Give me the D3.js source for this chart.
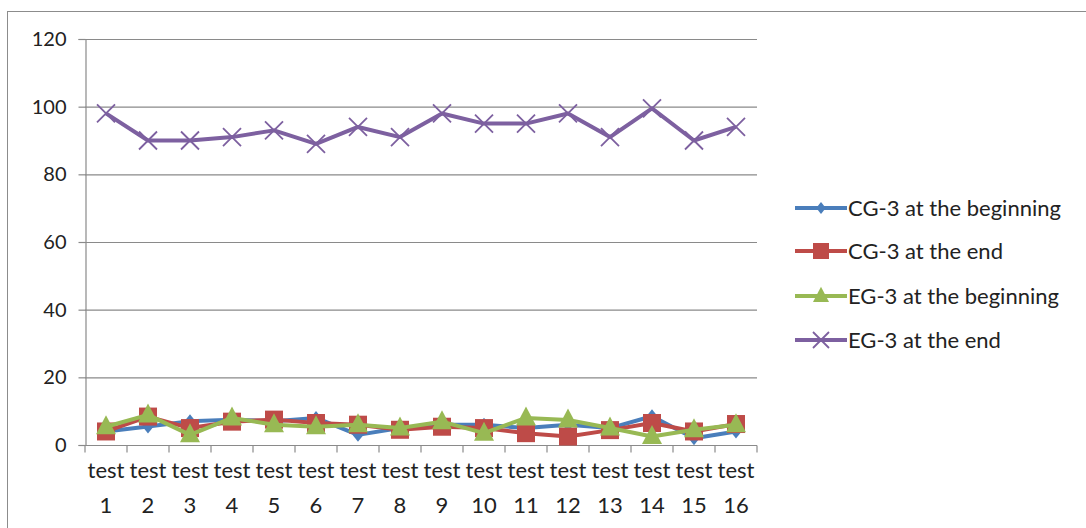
<!DOCTYPE html>
<html><head><meta charset="utf-8">
<script src="https://cdn.jsdelivr.net/npm/d3@7"></script>
<style>body{margin:0;background:#fff}svg{display:block}text{font-family:Lato,"Open Sans",sans-serif;fill:#222}</style>
</head><body>
<svg id="c" width="1086" height="528"></svg>
<script>
const categories = ["test 1","test 2","test 3","test 4","test 5","test 6","test 7","test 8","test 9","test 10","test 11","test 12","test 13","test 14","test 15","test 16"];
const cgBegin = [4, 5.5, 7, 7.5, 7, 8, 3, 5, 6, 6, 5, 6, 5, 8.5, 2, 4];
const cgEnd   = [4, 8.4, 5, 6.9, 7.5, 6.5, 6, 4.5, 5.4, 5, 3.5, 2.5, 4.4, 6.5, 4, 6.2];
const egBegin = [5.4, 8.9, 3, 8, 6, 5.4, 6, 5, 6.9, 3.5, 8, 7.4, 5, 2.5, 4.5, 6];
const egEnd   = [98, 90, 90, 91, 93, 89, 94, 91, 98, 95, 95, 98, 91, 99.5, 90, 94];
const seriesNames = ["CG-3 at the beginning","CG-3 at the end","EG-3 at the beginning","EG-3 at the end"];
const yTicks = [0,20,40,60,80,100,120];

const colors = ["#4a7ebb","#be4b48","#98b954","#7d60a0"];
const symbols = ["diamond","square","triangle","x"];
const allSeries = [cgBegin, cgEnd, egBegin, egEnd];

const svg = d3.select("#c");
svg.append("rect").attr("x",7.5).attr("y",11.5).attr("width",1100).attr("height",600)
  .attr("fill","none").attr("stroke","#8c8c8c").attr("stroke-width",1);

const L=85, R=757, T=39, B=445;
const x = d3.scaleBand().domain(categories).range([L,R]);
const y = d3.scaleLinear().domain([0,120]).range([B,T]);

svg.append("g").selectAll("line").data(yTicks.filter(d=>d>0)).join("line")
  .attr("x1",L).attr("x2",R).attr("y1",d=>y(d)+0.5).attr("y2",d=>y(d)+0.5)
  .attr("stroke","#8a8a8a").attr("stroke-width",1.2);

const ya = svg.append("g").attr("transform",`translate(${L+0.5},0)`)
  .call(d3.axisLeft(y).tickValues(yTicks).tickSize(7).tickPadding(12));
ya.select(".domain").attr("stroke","#8a8a8a").attr("stroke-width",1.2);
ya.selectAll(".tick line").attr("stroke","#8a8a8a").attr("stroke-width",1.2);
ya.selectAll("text").attr("font-size",20).style("font-family","Lato,'Open Sans',sans-serif").attr("fill","#222");

const xa = svg.append("g").attr("transform",`translate(0,${B+0.5})`);
xa.append("line").attr("x1",L).attr("x2",R).attr("stroke","#8a8a8a").attr("stroke-width",1.2);
const bounds = categories.map(c=>x(c)).concat([R]);
xa.selectAll("line.t").data(bounds).join("line").attr("class","t")
  .attr("x1",d=>d).attr("x2",d=>d).attr("y1",0).attr("y2",7)
  .attr("stroke","#8a8a8a").attr("stroke-width",1.2);
const lab = xa.selectAll("text").data(categories).join("text")
  .attr("text-anchor","middle").attr("font-size",22);
lab.append("tspan").attr("x",c=>x(c)+x.bandwidth()/2).attr("y",32).text(c=>c.split(" ")[0]);
lab.append("tspan").attr("x",c=>x(c)+x.bandwidth()/2).attr("y",67).text(c=>c.split(" ")[1]);

function drawMarker(g, sym, color, s){
  if(sym==="diamond") g.append("path").attr("d",`M0,${-s}L${s*0.8},0L0,${s}L${-s*0.8},0Z`).attr("fill",color);
  else if(sym==="square") g.append("rect").attr("x",-s).attr("y",-s).attr("width",2*s).attr("height",2*s).attr("fill",color);
  else if(sym==="triangle") g.append("path").attr("d",`M0,${-s*1.15}L${s},${s*0.75}L${-s},${s*0.75}Z`).attr("fill",color);
  else g.append("path").attr("d",`M${-s},${-s}L${s},${s}M${-s},${s}L${s},${-s}`).attr("stroke",color).attr("stroke-width",1.8).attr("fill","none");
}
const sizes=[7,9,10,9];
const line = d3.line().x((d,i)=>x(categories[i])+x.bandwidth()/2).y(d=>y(d));
allSeries.forEach((vals,k)=>{
  const g = svg.append("g");
  g.append("path").datum(vals).attr("d",line).attr("fill","none")
    .attr("stroke",colors[k]).attr("stroke-width",4).attr("stroke-linejoin","round");
  vals.forEach((v,i)=>{
    const m = g.append("g").attr("transform",`translate(${x(categories[i])+x.bandwidth()/2},${y(v)})`);
    drawMarker(m, symbols[k], colors[k], sizes[k]);
  });
});

const lg = svg.append("g");
const ly = [208,251,296,340];
seriesNames.forEach((n,k)=>{
  const r = lg.append("g").attr("transform",`translate(795,${ly[k]})`);
  r.append("line").attr("x1",0).attr("x2",52).attr("stroke",colors[k]).attr("stroke-width",4);
  const m = r.append("g").attr("transform","translate(26,0)");
  drawMarker(m, symbols[k], colors[k], [6,8,8,8][k]);
  r.append("text").attr("x",53).attr("y",8).attr("font-size",22).text(n);
});
</script>
</body></html>
